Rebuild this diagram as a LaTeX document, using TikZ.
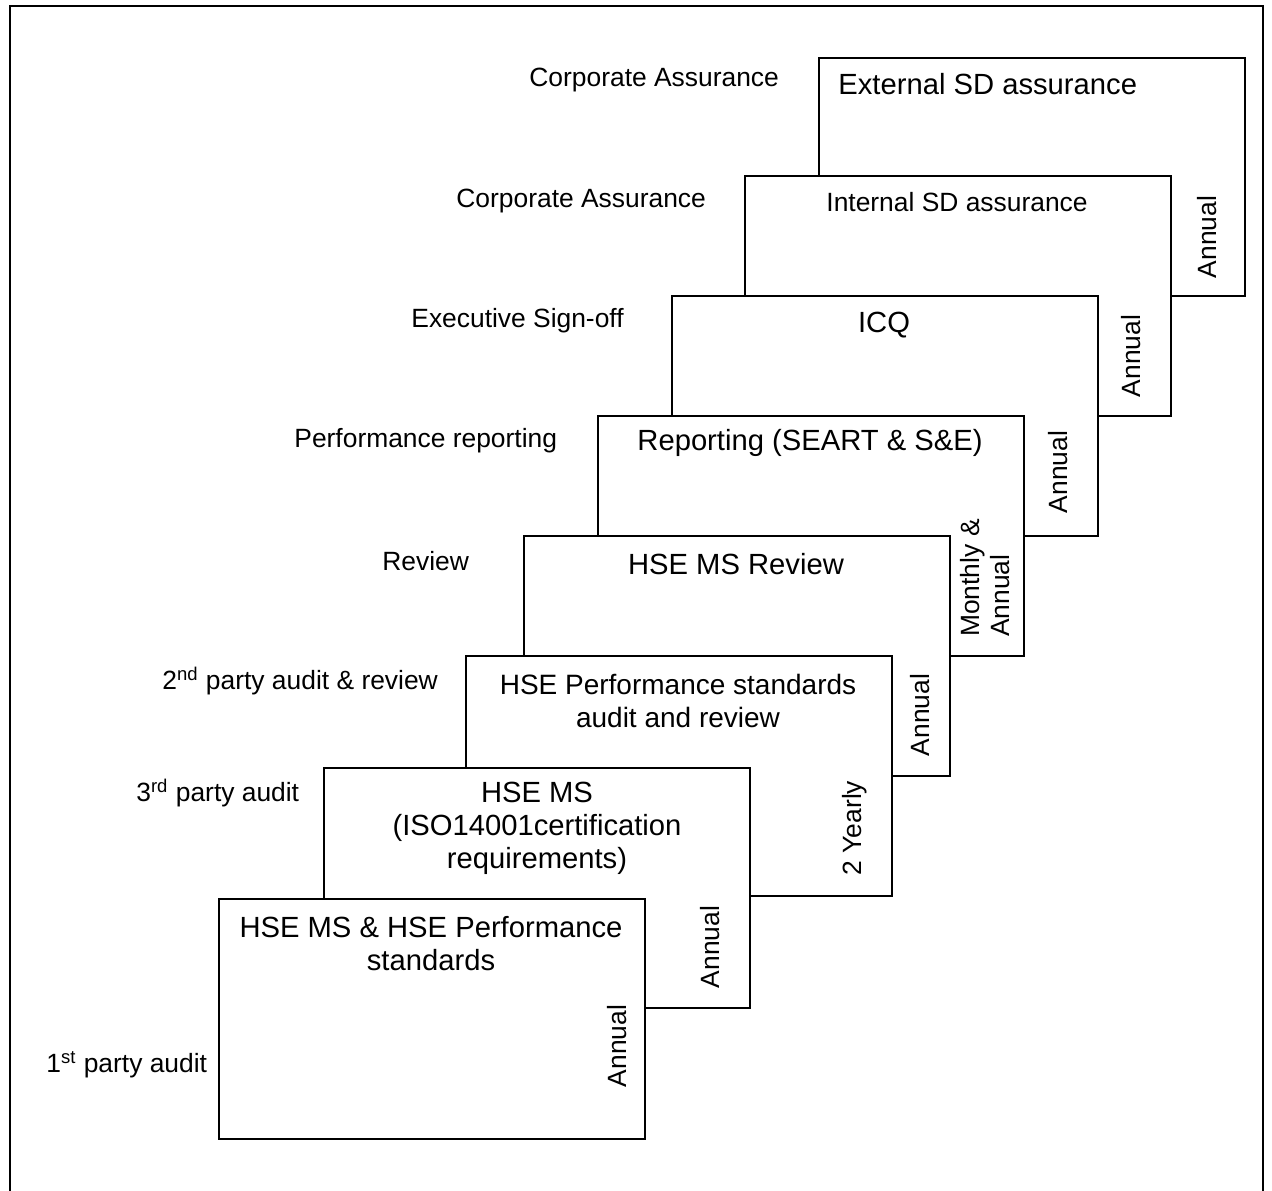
\documentclass[tikz,border=0pt]{standalone}
\usepackage{fontspec}
\setmainfont{Liberation Sans}
\begin{document}
\begin{tikzpicture}[x=0.5pt,y=-0.5pt]
\tikzset{
  box/.style={draw, line width=1pt, fill=white, anchor=north west, inner sep=0pt,
              minimum width=213pt, minimum height=120pt},
  big/.style={font=\fontsize{14.6pt}{16.5pt}\selectfont, align=center, inner sep=0pt},
  small/.style={font=\fontsize{13.2pt}{15pt}\selectfont, inner sep=0pt},
  side/.style={font=\fontsize{13.2pt}{15pt}\selectfont, inner sep=0pt, rotate=90, align=left},
  lbl/.style={font=\fontsize{13.2pt}{15pt}\selectfont, inner sep=0pt, anchor=west}
}
\useasboundingbox (0,0) rectangle (1272,1190);
% outer frame (open at bottom)
\draw[line width=1pt] (10,1195) -- (10,6) -- (1263,6) -- (1263,1195);

% boxes, back to front
\node[box, minimum height=119pt] (A) at (818,57) {};
\node[box] (B) at (744,175) {};
\node[box] (C) at (671,295) {};
\node[box] (D) at (597,415) {};
\node[box] (E) at (523,535) {};
\node[box] (F) at (465,655) {};
\node[box] (G) at (323,767) {};
\node[box] (H) at (218,898) {};

% box titles
\node[big, anchor=west] (tA) at (838,84) {External SD assurance};
\node[small] (tB) at (957,202) {Internal SD assurance};
\node[big] (tC) at (884,325) {ICQ};
\node[big] (tD) at (810,443) {Reporting (SEART \& S\&E)};
\node[big] (tE) at (736,564) {HSE MS Review};
\node[big, font=\fontsize{14pt}{16.5pt}\selectfont] (tF) at (678,701) {HSE Performance standards\\audit and review};
\node[big] (tG) at (537,828) {HSE MS\\(ISO14001certification\\requirements)};
\node[big] (tH) at (431,944) {HSE MS \& HSE Performance\\standards};

% frequency labels
\node[side] (fA) at (1207,237) {Annual};
\node[side] (fB) at (1131,356) {Annual};
\node[side] (fC) at (1058,472) {Annual};
\node[side] (fD) at (985,578) {Monthly \&\\Annual};
\node[side] (fE) at (920,715) {Annual};
\node[side] (fF) at (855,828) {2 Yearly};
\node[side] (fG) at (710,947) {Annual};
\node[side] (fH) at (617,1046) {Annual};

% level labels
\node[lbl] (lA) at (529,80) {Corporate Assurance};
\node[lbl] (lB) at (456,201) {Corporate Assurance};
\node[lbl] (lC) at (411,321) {Executive Sign-off};
\node[lbl] (lD) at (294,441) {Performance reporting};
\node[lbl] (lE) at (382,561) {Review};
\node[lbl] (lF) at (162,681) {2\textsuperscript{nd} party audit \& review};
\node[lbl] (lG) at (136,793) {3\textsuperscript{rd} party audit};
\node[lbl] (lH) at (46,1065) {1\textsuperscript{st} party audit};
\end{tikzpicture}
\end{document}
